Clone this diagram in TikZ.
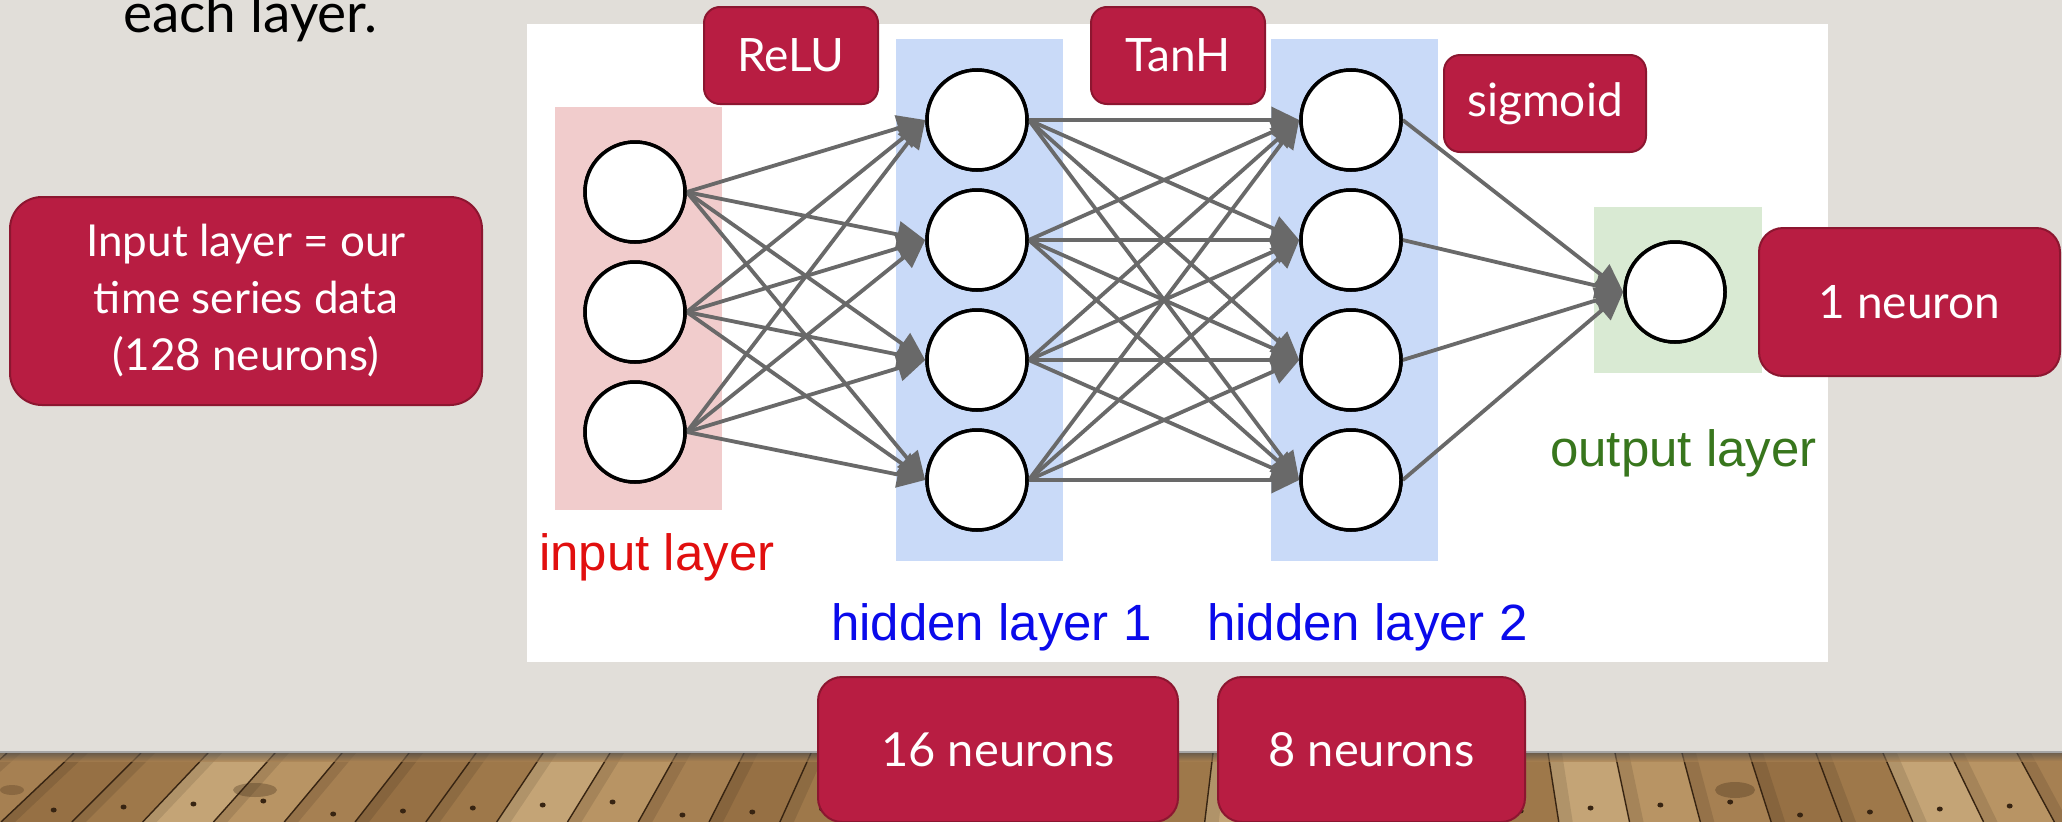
\documentclass[tikz,border=0pt]{standalone}
\usepackage{fontspec}
\setmainfont{Lato}
\newfontfamily\arialfont{Liberation Sans}
\usetikzlibrary{arrows.meta}

\definecolor{wall}{RGB}{225,222,217}
\definecolor{boxred}{RGB}{184,29,66}
\definecolor{boxedge}{RGB}{140,22,48}
\definecolor{inpink}{RGB}{241,204,204}
\definecolor{hidblue}{RGB}{201,218,248}
\definecolor{outgreen}{RGB}{217,234,211}
\definecolor{edgegray}{RGB}{105,105,105}
\definecolor{txtred}{RGB}{225,15,15}
\definecolor{txtblue}{RGB}{10,10,235}
\definecolor{txtgreen}{RGB}{56,118,29}
\definecolor{wood0}{RGB}{166,128,82}
\definecolor{wood1}{RGB}{196,164,118}
\definecolor{wood2}{RGB}{150,112,68}
\definecolor{wood3}{RGB}{184,148,100}
\definecolor{wood4}{RGB}{158,120,74}
\definecolor{plankdark}{RGB}{55,36,18}

\begin{document}
\begin{tikzpicture}[x=1pt,y=-1pt,
  neuron/.style={circle,draw=black,fill=white,line width=3.5pt,minimum size=100pt,inner sep=0pt},
  link/.style={draw=edgegray,line width=3.8pt,-{Triangle[length=28pt,width=26pt]}},
  tagbox/.style={rectangle,fill=boxred,draw=boxedge,line width=2pt,text=white,
    inner sep=0pt,align=center},
  layertext/.style={anchor=base west,inner sep=0pt,font=\arialfont\fontsize{51}{60}\selectfont},
  plankline/.style={draw=plankdark,line width=1.4pt}
]
\useasboundingbox (0,0) rectangle (2062,822);

% wall
\fill[wall] (0,0) rectangle (2062,822);

% wooden floor
\begin{scope}
\clip (0,753) rectangle (2062,822);
\fill[wood0] (0,753) rectangle (2062,822);
\foreach \i in {0,...,33} {
  \pgfmathsetmacro{\ta}{-60+67*\i}
  \pgfmathsetmacro{\tb}{-60+67*(\i+1)}
  \pgfmathsetmacro{\ba}{\ta+(\ta-1359)*0.0568}
  \pgfmathsetmacro{\bb}{\tb+(\tb-1359)*0.0568}
  \pgfmathtruncatemacro{\c}{mod(\i*7+3,5)}
  \pgfmathsetmacro{\dx}{(\ta+\tb+\ba+\bb)/4+(\ba-\ta)*0.25}
  \pgfmathsetmacro{\dy}{800+mod(\i*13,16)}
  \fill[wood\c] (\ta,753) -- (\tb,753) -- (\bb,822) -- (\ba,822) -- cycle;
  \fill[black,opacity=0.1] (\ta,753) -- (\ta+14,753) -- (\ba+14,822) -- (\ba,822) -- cycle;
  \draw[plankline] (\ta,753) -- (\ba,822);
  \fill[plankdark] (\dx,\dy) ellipse (3pt and 2.5pt);
}
% knots
\fill[plankdark,opacity=0.3] (255,790) ellipse (22pt and 7pt);
\fill[plankdark,opacity=0.3] (1735,790) ellipse (20pt and 8pt);
\fill[plankdark,opacity=0.25] (12,790) ellipse (12pt and 5pt);
% shadow under the wall
\shade[top color=black!70,bottom color=wood0,opacity=0.6] (0,753) rectangle (2062,761);
\end{scope}
\draw[gray!70,line width=2pt] (0,752) -- (2062,752);

% title line
\node[anchor=base west,inner sep=0pt,font=\fontsize{55}{64}\selectfont] (title) at (123,32) {each layer.};

% white panel of the network figure
\fill[white] (527,24) rectangle (1828,662);

% layer bands
\fill[inpink] (555,107) rectangle (722,510);
\fill[hidblue] (896,39) rectangle (1063,561);
\fill[hidblue] (1271,39) rectangle (1438,561);
\fill[outgreen] (1594,207) rectangle (1762,373);

% neurons
\node[neuron] (i1) at (635,192) {};
\node[neuron] (i2) at (635,312) {};
\node[neuron] (i3) at (635,432) {};
\foreach \k/\yy in {1/120,2/240,3/360,4/480} {
  \node[neuron] (a\k) at (977,\yy) {};
  \node[neuron] (b\k) at (1351,\yy) {};
}
\node[neuron] (o1) at (1675,292) {};

% connections
\foreach \s in {1,2,3} \foreach \t in {1,2,3,4} \draw[link] (i\s.east) -- (a\t.west);
\foreach \s in {1,2,3,4} \foreach \t in {1,2,3,4} \draw[link] (a\s.east) -- (b\t.west);
\foreach \s in {1,2,3,4} \draw[link] (b\s.east) -- (o1.west);

% redraw neurons above the arrow tips
\foreach \n/\xx/\yy in {i1/635/192,i2/635/312,i3/635/432,a1/977/120,a2/977/240,a3/977/360,a4/977/480,b1/1351/120,b2/1351/240,b3/1351/360,b4/1351/480,o1/1675/292}
  \draw[black,fill=white,line width=3.5pt] (\xx,\yy) circle (50pt);

% layer captions
\node[layertext,text=txtred] (lin) at (539,570) {input layer};
\node[layertext,text=txtblue] (lh1) at (831,640) {hidden layer 1};
\node[layertext,text=txtblue] (lh2) at (1207,640) {hidden layer 2};
\node[layertext,text=txtgreen] (lout) at (1550,466) {output layer};

% annotation boxes
\node[tagbox,rounded corners=32pt,minimum width=472pt,minimum height=208pt,
  font=\fontsize{44}{57}\selectfont] (inbox) at (246,301)
  {Input layer = our\\time series data\\(128 neurons)};
\node[tagbox,rounded corners=16pt,minimum width=174pt,minimum height=97pt,
  font=\fontsize{46}{54}\selectfont] (relu) at (791,55.5) {ReLU};
\node[tagbox,rounded corners=16pt,minimum width=174pt,minimum height=97pt,
  font=\fontsize{46}{54}\selectfont] (tanh) at (1178,55.5) {TanH};
\node[tagbox,rounded corners=16pt,minimum width=202pt,minimum height=97pt,
  font=\fontsize{46}{54}\selectfont] (sigm) at (1545,103.5) {sigmoid};
\node[tagbox,rounded corners=24pt,minimum width=301pt,minimum height=148pt,
  font=\fontsize{46}{54}\selectfont] (one) at (1909.5,302) {1 neuron};
\node[tagbox,rounded corners=24pt,minimum width=360pt,minimum height=145pt,
  font=\fontsize{47}{54}\selectfont] (h16) at (998,749.5) {16 neurons};
\node[tagbox,rounded corners=24pt,minimum width=307pt,minimum height=145pt,
  font=\fontsize{47}{54}\selectfont] (h8) at (1371.5,749.5) {8 neurons};
\end{tikzpicture}
\end{document}
